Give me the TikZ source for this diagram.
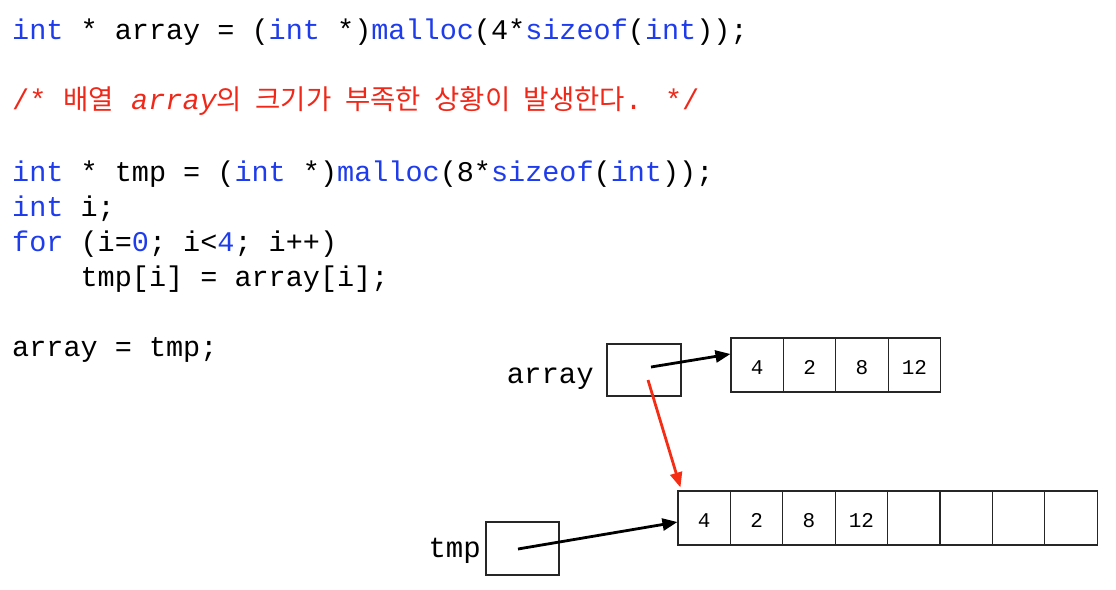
\documentclass[tikz,border=0pt]{standalone}
\usepackage{fontspec}
\usetikzlibrary{arrows.meta,calc}
\newfontfamily\cf{Liberation Mono}
\newfontfamily\kr{Noto Sans CJK KR}[WordSpace=2.2]
\definecolor{kwblue}{RGB}{30,60,235}
\definecolor{cmred}{RGB}{240,40,25}
\definecolor{arred}{RGB}{245,45,20}
\newcommand{\kw}[1]{\textcolor{kwblue}{#1}}
\tikzset{
  code/.style={anchor=base west, inner sep=0pt, font=\cf\fontsize{28.5}{35}\selectfont},
  lbl/.style={anchor=base east, inner sep=0pt, font=\cf\fontsize{29}{35}\selectfont},
  cell/.style={draw=black!85, line width=1.1pt, minimum width=52.4pt, minimum height=54pt,
     inner sep=0pt, text height=18pt, text depth=0pt, font=\cf\fontsize{21}{24}\selectfont},
  ptrbox/.style={draw=black!85, line width=1.1pt, inner sep=0pt},
  ptr/.style={line width=2.8pt, -{Triangle[length=15pt,width=12pt]}},
}
\begin{document}
\begin{tikzpicture}[x=1pt,y=-1pt]
\useasboundingbox (0,0) rectangle (1116,589);
% code
\node[code] (l1) at (12,39) {\kw{int} * array = (\kw{int} *)\kw{malloc}(4*\kw{sizeof}(\kw{int}));};
\node[code,text=cmred] (l2) at (12,109) {/* {\kr\fontsize{27.5}{35}\selectfont 배열} {\itshape array}{\kr\fontsize{27.5}{35}\selectfont 의 크기가 부족한 상황이 발생한다}. */};
\node[code] (l3) at (12,181) {\kw{int} * tmp = (\kw{int} *)\kw{malloc}(8*\kw{sizeof}(\kw{int}));};
\node[code] (l4) at (12,216) {\kw{int} i;};
\node[code] (l5) at (12,251) {\kw{for} (i=\kw{0}; i<\kw{4}; i++)};
\node[code] (l6) at (80.4,286) {tmp[i] = array[i];};
\node[code] (l7) at (12,356) {array = tmp;};
% small array
\foreach \v [count=\i] in {4,2,8,12}
  \node[cell] (a\i) at ({731+26.2+52.4*(\i-1)},365) {\v};
% big array
\foreach \v [count=\i] in {4,2,8,12,{},{},{},{}}
  \node[cell] (b\i) at ({678+26.2+52.4*(\i-1)},518) {\v};
% pointer boxes
\node[ptrbox, minimum width=74pt, minimum height=52pt] (arr) at (644,370) {};
\node[ptrbox, minimum width=73pt, minimum height=53pt] (tmp) at (522.5,548.5) {};
\node[lbl] (arrl) at (594,383) {array};
\node[lbl] (tmpl) at (481,557) {tmp};
% connectors
\draw[ptr] ($(arr.center)+(7,-3)$) -- ($(a1.west)+(0,-11)$);
\draw[ptr, arred] ($(arr.center)+(4,10)$) -- ($(b1.north west)+(3,-3)$);
\draw[ptr] ($(tmp.center)+(-4.5,0.5)$) -- ($(b1.west)+(0,4)$);
\end{tikzpicture}
\end{document}
